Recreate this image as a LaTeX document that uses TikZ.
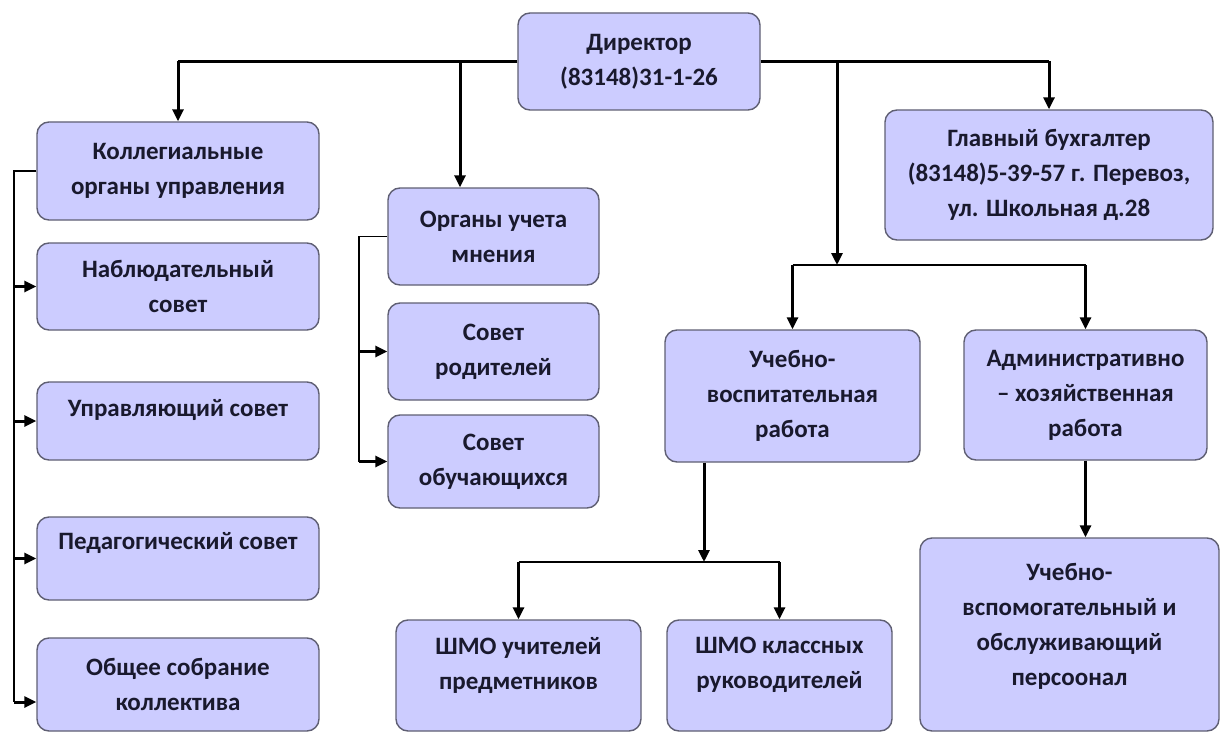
\documentclass[tikz,border=0pt]{standalone}
\usepackage{fontspec}
\setmainfont{Carlito}
\usetikzlibrary{arrows.meta}
\definecolor{lilovyj}{RGB}{204,204,255}
\definecolor{ramka}{RGB}{95,95,115}
\definecolor{tekst}{RGB}{25,25,45}
\begin{document}
\begin{tikzpicture}[x=1pt,y=-1pt,
  blok/.style={draw=ramka, line width=1.4pt, fill=lilovyj, rounded corners=12pt,
    align=center, text=tekst, inner sep=0pt, font=\fontsize{25}{35}\selectfont\bfseries},
  nadpis/.style={align=center, text=tekst, font=\fontsize{25}{35}\selectfont\bfseries},
  strelka/.style={line width=3pt, -{Triangle[length=12pt,width=11pt]}},
  gor/.style={line width=2.2pt},
  liniya/.style={line width=1.6pt}]
\useasboundingbox (0,0) rectangle (1221,733);

% директор
\node[blok, minimum width=242pt, minimum height=97pt] (dir) at (639,61.5) {Директор\\(83148)31-1-26};
\node[blok, minimum width=328pt, minimum height=130pt] (buh) at (1049,175) {Главный бухгалтер\\(83148)5-39-57 г. Перевоз,\\ул. Школьная д.28};

% коллегиальные органы
\node[blok, minimum width=282pt, minimum height=98pt] (koll) at (178,171) {Коллегиальные\\органы управления};
\node[blok, minimum width=282pt, minimum height=87pt] (nabl) at (178,286.5) {Наблюдательный\\совет};
\node[blok, minimum width=282pt, minimum height=78pt] (upr) at (178,421) {};
\node[nadpis] (uprT) at (178,410) {Управляющий совет};
\node[blok, minimum width=282pt, minimum height=83pt] (ped) at (178,558.5) {};
\node[nadpis] (pedT) at (178,543) {Педагогический совет};
\node[blok, minimum width=282pt, minimum height=93pt] (obsh) at (178,684.5) {Общее собрание\\коллектива};

% органы учета мнения
\node[blok, minimum width=211pt, minimum height=97pt] (org) at (493.5,236.5) {Органы учета\\мнения};
\node[blok, minimum width=211pt, minimum height=97pt] (rod) at (493.5,351.5) {Совет\\родителей};
\node[blok, minimum width=211pt, minimum height=93pt] (obuch) at (493.5,461.5) {Совет\\обучающихся};

% работа
\node[blok, minimum width=255pt, minimum height=132pt] (uvr) at (792.5,396) {Учебно-\\воспитательная\\работа};
\node[blok, minimum width=243pt, minimum height=130pt] (adm) at (1085.5,395) {Административно\\-- хозяйственная\\работа};
\node[blok, minimum width=245pt, minimum height=111pt] (shmo1) at (518.5,675.5) {};
\node[nadpis] (shmo1T) at (518.5,665) {ШМО учителей\\предметников};
\node[blok, minimum width=225pt, minimum height=111pt] (shmo2) at (779.5,675.5) {};
\node[nadpis] (shmo2T) at (779.5,665) {ШМО классных\\руководителей};
\node[blok, minimum width=299pt, minimum height=193pt] (vsp) at (1069.5,634.5) {};
\node[nadpis] (vspT) at (1069.5,626) {Учебно-\\вспомогательный и\\обслуживающий\\персоонал};

% от директора влево
\draw[gor] (dir.west) -- (dir.west -| koll.north);
\draw[strelka] (dir.west -| koll.north) -- (koll.north);
\coordinate (otv) at (460,61.5);
\draw[strelka] (otv) -- (otv |- org.north);

% от директора вправо
\draw[gor] (dir.east) -- (dir.east -| buh.north);
\draw[strelka] (dir.east -| buh.north) -- (buh.north);
\coordinate (rv) at (837,61.5);
\coordinate (rn) at (837,265);
\draw[strelka] (rv) -- (rn);
\draw[gor] (rn -| uvr.north) -- (rn -| adm.north);
\draw[strelka] (rn -| uvr.north) -- (uvr.north);
\draw[strelka] (rn -| adm.north) -- (adm.north);

% ШМО
\coordinate (un) at (704,562);
\draw[strelka] (uvr.south -| un) -- (un);
\draw[gor] (un -| shmo1.north) -- (un -| shmo2.north);
\draw[strelka] (un -| shmo1.north) -- (shmo1.north);
\draw[strelka] (un -| shmo2.north) -- (shmo2.north);
\draw[strelka] (adm.south) -- (adm.south |- vsp.north);

% скобка слева
\coordinate (lv) at (14,171);
\coordinate (ln) at (14,702);
\draw[liniya] (koll.west) -- (lv) -- (ln);
\draw[strelka] (lv |- nabl.west) -- (nabl.west);
\draw[strelka] (lv |- upr.west) -- (upr.west);
\draw[strelka] (lv |- ped.west) -- (ped.west);
\draw[strelka] (ln) -- (ln -| obsh.west);

% скобка посередине
\coordinate (sv) at (359,236.5);
\coordinate (sn) at (359,461.5);
\draw[liniya] (org.west) -- (sv) -- (sn);
\draw[strelka] (sv |- rod.west) -- (rod.west);
\draw[strelka] (sn) -- (obuch.west);
\end{tikzpicture}
\end{document}
